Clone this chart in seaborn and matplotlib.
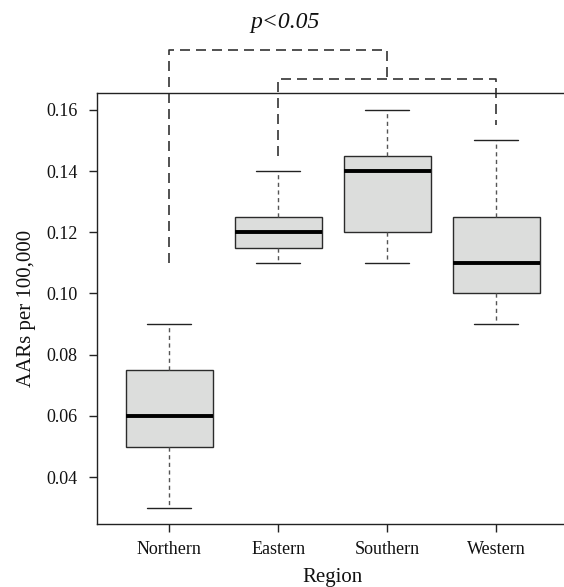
#!/usr/bin/env python

import numpy as np
import matplotlib
matplotlib.use('Agg')
import matplotlib.pyplot as plt
import seaborn as sns
import pandas as pd

# five-number summaries (min, Q1, median, Q3, max)
regions = ['Northern', 'Eastern', 'Southern', 'Western']
northern = [0.03, 0.05, 0.06, 0.075, 0.09]
eastern = [0.11, 0.115, 0.12, 0.125, 0.14]
southern = [0.11, 0.12, 0.14, 0.145, 0.16]
western = [0.09, 0.10, 0.11, 0.125, 0.15]

# significance brackets (x = category index, y = value)
outer_x = [0, 0, 2, 2]
outer_y = [0.11, 0.1795, 0.1795, 0.17]
inner_x = [1, 1, 3, 3]
inner_y = [0.145, 0.17, 0.17, 0.155]
p_label = 'p<0.05'

sns.set_style('ticks')
plt.rcParams['font.family'] = ['Liberation Serif', 'DejaVu Serif']

values = northern + eastern + southern + western
labels = [r for r in regions for _ in range(5)]
df = pd.DataFrame({'Region': labels, 'AARs per 100,000': values})

fig = plt.figure(figsize=(5.64, 5.87), dpi=100)
ax = fig.add_axes([0.1725, 0.1073, 0.835, 0.7349])

sns.boxplot(data=df, x='Region', y='AARs per 100,000', order=regions,
            color='#dcdddc', linecolor='#2b2b2b', linewidth=1.0,
            width=0.8, whis=(0, 100), showfliers=False, saturation=1,
            medianprops={'color': 'black', 'linewidth': 2.8},
            whiskerprops={'color': '#555555', 'linestyle': (0, (3, 2.5)), 'linewidth': 1.0},
            capprops={'color': '#222222', 'linewidth': 1.0},
            boxprops={'edgecolor': '#2b2b2b'},
            ax=ax)

ax.plot(outer_x, outer_y, color='#333333', lw=1.2, ls=(0, (6, 3.6)), clip_on=False)
ax.plot(inner_x, inner_y, color='#333333', lw=1.2, ls=(0, (6, 3.6)), clip_on=False)
ax.text(1.06, 0.1885, p_label, style='italic', fontsize=17, ha='center', va='center', color='#111111')

ax.set_xlim(-0.66, 3.66)
ax.set_ylim(0.0247, 0.1656)
ax.set_yticks([0.04, 0.06, 0.08, 0.10, 0.12, 0.14, 0.16])
ax.set_yticklabels(['0.04', '0.06', '0.08', '0.10', '0.12', '0.14', '0.16'])

for side in ['left', 'bottom', 'top']:
	ax.spines[side].set_visible(True)
	ax.spines[side].set_color('#222222')
	ax.spines[side].set_linewidth(1.0)
ax.spines['right'].set_visible(False)

ax.tick_params(axis='both', direction='out', length=6, width=1.0, color='#222222', labelsize=13, labelcolor='#111111')
ax.tick_params(axis='y', pad=8)
ax.tick_params(axis='x', pad=6)

ax.set_xlabel('Region', fontsize=15, color='#111111', va='center')
ax.set_ylabel('AARs per 100,000', fontsize=15, color='#111111', va='center')
ax.xaxis.set_label_coords(0.5, -0.123)
ax.yaxis.set_label_coords(-0.15, 0.5)

fig.savefig('out.png', dpi=100)
